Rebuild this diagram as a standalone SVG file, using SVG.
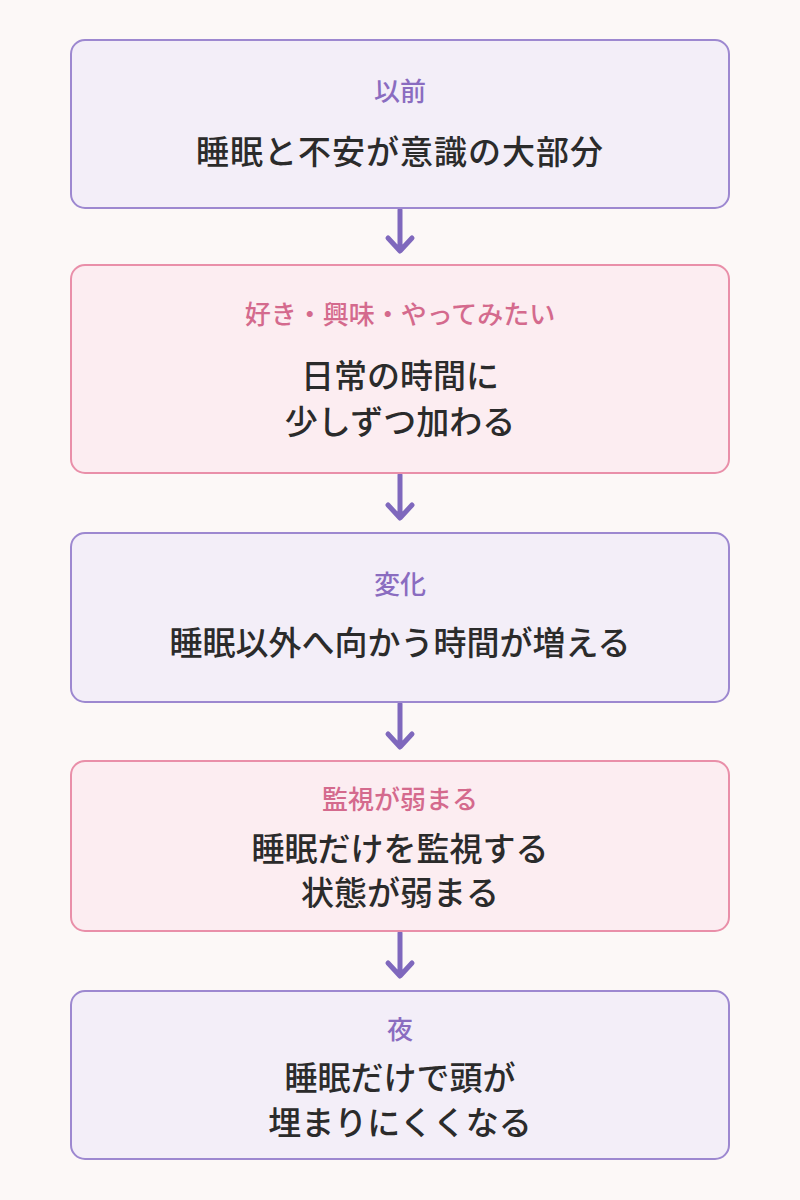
<svg xmlns="http://www.w3.org/2000/svg" width="800" height="1200" viewBox="0 0 800 1200">
<defs>
<style>
.bg{fill:#fcf8f7}
.p{fill:#f3eef8;stroke:#9d88d0;stroke-width:2}
.k{fill:#fcedf1;stroke:#e98fa9;stroke-width:2}
.lp{fill:#8a6cc0;font-size:26px;font-weight:500}
.lk{fill:#d46a8d;font-size:26px;font-weight:500}
.m{fill:#2b2b2b;font-size:33px;font-weight:500}
text{font-family:"Noto Sans CJK JP","Noto Sans CJK SC",sans-serif;text-anchor:middle;dominant-baseline:central}
.c{stroke:#7f68bd;stroke-width:5;fill:none;stroke-linecap:round;stroke-linejoin:round}
</style>
</defs>
<rect class="bg" width="800" height="1200"/>
<g id="connectors">
<path class="c" d="M400 210V250M388 238L400 251L412 238"/>
<path class="c" d="M400 475V517M388 505L400 518L412 505"/>
<path class="c" d="M400 704V746M388 734L400 747L412 734"/>
<path class="c" d="M400 933V975M388 963L400 976L412 963"/>
</g>
<g id="n1">
<rect class="p" x="71" y="40" width="658" height="168" rx="14"/>
<text class="lp" x="400" y="89">以前</text>
<text class="m" x="400" y="150" letter-spacing="1">睡眠と不安が意識の大部分</text>
</g>
<g id="n2">
<rect class="k" x="71" y="265" width="658" height="208" rx="14"/>
<text class="lk" x="400" y="312">好き・興味・やってみたい</text>
<text class="m" x="400" y="374">日常の時間に</text>
<text class="m" x="400" y="420">少しずつ加わる</text>
</g>
<g id="n3">
<rect class="p" x="71" y="533" width="658" height="169" rx="14"/>
<text class="lp" x="400" y="582">変化</text>
<text class="m" x="400" y="641">睡眠以外へ向かう時間が増える</text>
</g>
<g id="n4">
<rect class="k" x="71" y="761" width="658" height="170" rx="14"/>
<text class="lk" x="400" y="797">監視が弱まる</text>
<text class="m" x="400" y="847">睡眠だけを監視する</text>
<text class="m" x="400" y="891">状態が弱まる</text>
</g>
<g id="n5">
<rect class="p" x="71" y="991" width="658" height="168" rx="14"/>
<text class="lp" x="400" y="1027">夜</text>
<text class="m" x="400" y="1076">睡眠だけで頭が</text>
<text class="m" x="400" y="1121">埋まりにくくなる</text>
</g>
</svg>
